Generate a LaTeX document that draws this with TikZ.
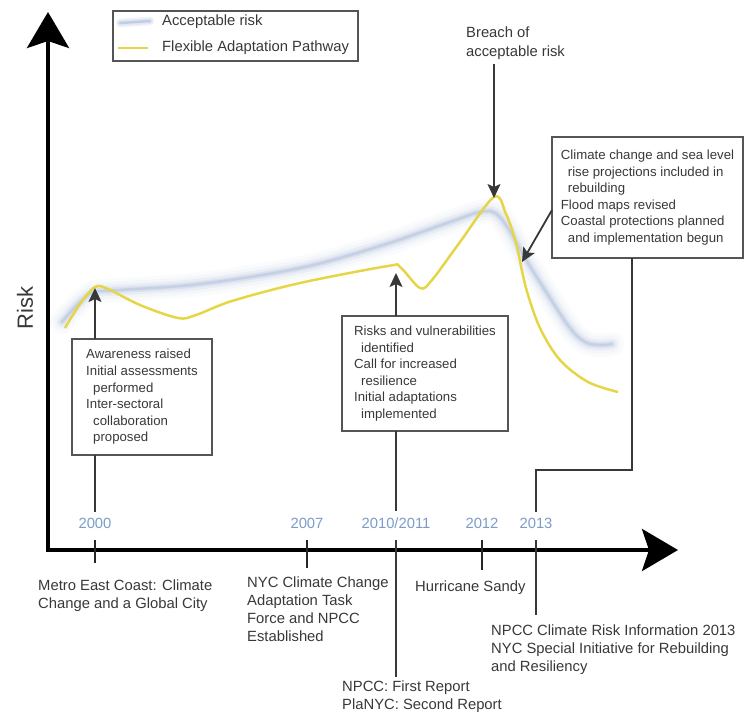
\documentclass[tikz,border=0pt]{standalone}
\usepackage{fontspec}
\setmainfont{Liberation Sans}
\usetikzlibrary{arrows.meta, positioning}

\definecolor{inkgrey}{HTML}{383838}
\definecolor{framegrey}{HTML}{555555}
\definecolor{yearblue}{HTML}{7B9CC8}
\definecolor{pathyellow}{RGB}{230,213,70}
\definecolor{bandblue}{RGB}{172,188,218}

\newcommand{\infofont}{\fontsize{13.2}{16.6}\selectfont}
\newcommand{\labelfont}{\fontsize{14.8}{18}\selectfont}

\tikzset{
  infobox/.style={draw=framegrey, line width=1.8pt, anchor=north west, align=left,
    inner sep=0pt, outer sep=0pt, font=\infofont},
  eventlabel/.style={anchor=north west, align=left, inner sep=0pt, font=\labelfont},
  year/.style={text=yearblue, inner sep=6pt, font=\labelfont},
  pointer/.style={draw=inkgrey, line width=1.8pt, -{Stealth[length=14pt, width=13pt, inset=3pt]}},
  link/.style={draw=inkgrey, line width=1.8pt},
  tick/.style={draw=black!85, line width=2pt},
}

\begin{document}
\begin{tikzpicture}[x=1pt, y=-1pt, every node/.style={text=inkgrey}]
    \useasboundingbox (0,0) rectangle (745,715);

    % axes
    \coordinate (origin) at (48,550);
    \coordinate (ytip) at (48,12);
    \coordinate (xtip) at (678,550);
    \draw[line width=4pt, line join=miter, {Stealth[length=36pt, width=42pt, inset=7pt]}-{Stealth[length=36pt, width=42pt, inset=7pt]}]
        (ytip) -- (origin) -- (xtip);
    \node[rotate=90, font=\fontsize{22}{22}\selectfont] (risklabel) at (25,308) {Risk};

    % legend
    \node[draw=framegrey, line width=1.5pt, anchor=north west, minimum width=245, minimum height=50, inner sep=0pt] (legend) at (112,10) {};
    \node[anchor=west, inner sep=0pt, font=\labelfont] (accrisk) at (162,22) {Acceptable risk};
    \node[anchor=west, inner sep=0pt, font=\labelfont] (flexpath) at (162,48) {Flexible Adaptation Pathway};
    \coordinate (swatchA) at (120,23);
    \coordinate (swatchB) at (150,21);
    \foreach \w/\c in {9/bandblue!15, 6/bandblue!35, 2.5/bandblue!75}
        \draw[line width=\w pt, \c, line cap=round] (swatchA) -- (swatchB);
    \coordinate (swatchC) at (118,48);
    \coordinate (swatchD) at (148,48);
    \draw[pathyellow, line width=2.5pt] (swatchC) -- (swatchD);

    % acceptable risk band
    \foreach \w/\c in {24/bandblue!6, 17/bandblue!13, 11/bandblue!26, 6/bandblue!45, 2.5/bandblue!70}
        \draw[line width=\w pt, \c, line cap=round, line join=round]
            plot[smooth, tension=0.6] coordinates {(62,322) (80,302) (95,292) (120,290) (200,284)
                (300,268) (380,246) (450,222) (480,212) (495,213) (508,228) (525,258) (550,298)
                (570,328) (585,342) (600,345) (612,344)};

    % flexible adaptation pathway
    \draw[pathyellow, line width=2.5pt, line join=round]
        plot[smooth, tension=0.55] coordinates {(65,328) (80,304) (95,287) (108,289) (140,305)
            (178,318) (196,315) (232,301) (300,283) (388,266) (400,267) (420,288) (432,280)
            (460,242) (494,197) (506,214) (516,243) (526,288) (540,328) (560,360) (588,382) (618,392)};

    % points on the curves
    \coordinate (tipA) at (95,288);
    \coordinate (tipB) at (396,273);
    \coordinate (tipC) at (494,198);
    \coordinate (tipD) at (522,262);

    % boxes
    \node[infobox, minimum width=140, minimum height=116] (awareness) at (72,339)
        {Awareness raised\\ Initial assessments\\ \hspace*{7pt}performed\\ Inter-sectoral\\
         \hspace*{7pt}collaboration\\ \hspace*{7pt}proposed};
    \node[infobox, minimum width=166, minimum height=115] (risks) at (342,316)
        {Risks and vulnerabilities\\ \hspace*{7pt}identified\\ Call for increased\\
         \hspace*{7pt}resilience\\ Initial adaptations\\ \hspace*{7pt}implemented};
    \node[infobox, minimum width=191, minimum height=121] (rebuild) at (552,137)
        {Climate change and sea level\\ \hspace*{7pt}rise projections included in\\
         \hspace*{7pt}rebuilding\\ Flood maps revised\\ Coastal protections planned\\
         \hspace*{7pt}and implementation begun};
    \node[eventlabel, align=left] (breach) at (466,27) {Breach of\\[1pt] acceptable risk};

    % years
    \node[year] (y2000) at (95,523) {2000};
    \node[year] (y2007) at (307,523) {2007};
    \node[year] (y2010) at (396,523) {2010/2011};
    \node[year] (y2012) at (482,523) {2012};
    \node[year] (y2013) at (536,523) {2013};

    % events below the axis
    \node[eventlabel] (metro) at (38,580) {Metro East Coast: Climate\\ Change and a Global City};
    \node[eventlabel] (taskforce) at (247,577) {NYC Climate Change\\ Adaptation Task\\ Force and NPCC\\ Established};
    \node[eventlabel] (sandy) at (415,581) {Hurricane Sandy};
    \node[eventlabel] (cri) at (491,625) {NPCC Climate Risk Information 2013\\ NYC Special Initiative for Rebuilding\\ and Resiliency};
    \node[eventlabel] (firstreport) at (342,681) {NPCC: First Report\\ PlaNYC: Second Report};

    % ticks
    \coordinate (t2000) at (95,540);
    \coordinate (t2007) at (307,540);
    \coordinate (t2010) at (396,540);
    \coordinate (t2012) at (482,540);
    \coordinate (t2013) at (536,540);
    \draw[tick] (t2000) -- ++(0,23);
    \draw[tick] (t2007) -- ++(0,28);
    \draw[tick] (t2012) -- ++(0,30);
    \draw[link] (t2010) -- ([yshift=4pt]t2010 |- firstreport.north);
    \draw[link] (t2013) -- (t2013 |- 0,615);

    % connectors
    \draw[link] (awareness.south -| y2000) -- (y2000.north);
    \draw[link] (risks.south -| y2010) -- (y2010.north);
    \coordinate (bend13) at (632,470);
    \draw[link] (bend13 |- rebuild.south) -- (bend13) -- (bend13 -| y2013) -- (y2013.north);

    \draw[pointer] (awareness.north -| tipA) -- (tipA);
    \draw[pointer] (risks.north -| tipB) -- (tipB);
    \draw[pointer] ([yshift=-4pt]breach.south -| tipC) -- (tipC);
    \draw[pointer] (rebuild.west |- 0,210) -- (tipD);
\end{tikzpicture}
\end{document}
